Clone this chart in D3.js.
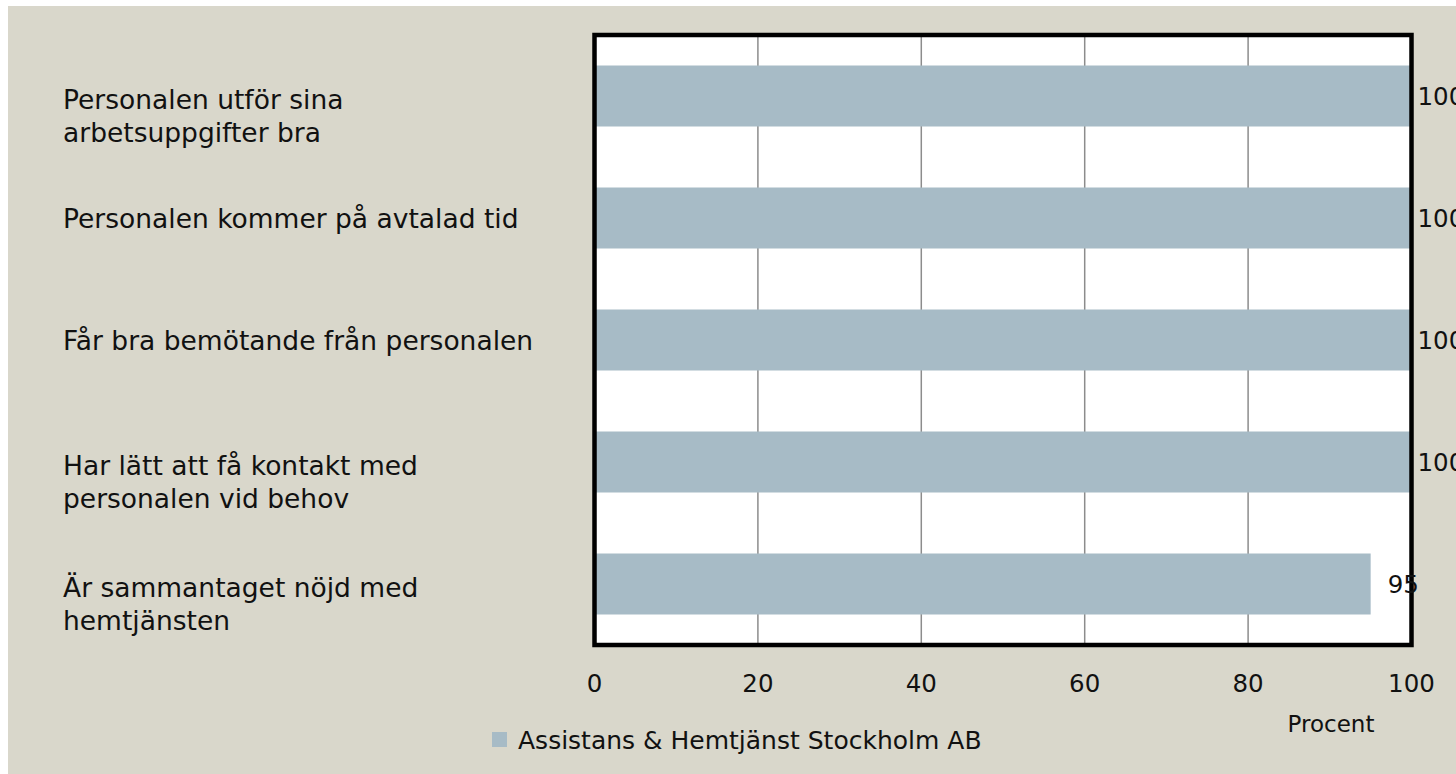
<!DOCTYPE html>
<html>
<head>
<meta charset="utf-8">
<script src="https://cdn.jsdelivr.net/npm/d3@7"></script>
<style>
  html, body { margin: 0; padding: 0; background: #ffffff; }
  svg { display: block; }
  text { font-family: "DejaVu Sans", sans-serif; fill: #111; }
</style>
</head>
<body>
<div id="chart"></div>
<script>
// data
const categories = [
  ["Personalen utför sina", "arbetsuppgifter bra"],
  ["Personalen kommer på avtalad tid"],
  ["Får bra bemötande från personalen"],
  ["Har lätt att få kontakt med", "personalen vid behov"],
  ["Är sammantaget nöjd med", "hemtjänsten"]
];
const values = [100, 100, 100, 100, 95];
const xTicks = [0, 20, 40, 60, 80, 100];
const seriesName = "Assistans & Hemtjänst Stockholm AB";
const axisTitle = "Procent";

const width = 1456, height = 774;
const plot = { left: 594.5, right: 1411.5, top: 35, bottom: 645 };

const svg = d3.select('#chart')
  .append('svg')
  .attr('width', width)
  .attr('height', height);

// background
svg.append('rect')
  .attr('x', 8).attr('y', 6)
  .attr('width', width - 8).attr('height', height - 6)
  .attr('fill', '#d9d7cb');

const x = d3.scaleLinear().domain([0, 100]).range([plot.left, plot.right]);
const y = d3.scaleBand()
  .domain(d3.range(categories.length))
  .range([plot.top, plot.bottom])
  .paddingInner(0.5)
  .paddingOuter(0.25);

// plot area
svg.append('rect')
  .attr('x', plot.left).attr('y', plot.top)
  .attr('width', plot.right - plot.left).attr('height', plot.bottom - plot.top)
  .attr('fill', '#ffffff');

// gridlines
svg.selectAll('.grid')
  .data(xTicks.slice(1, -1))
  .enter()
  .append('line')
    .attr('class', 'grid')
    .attr('x1', d => x(d)).attr('x2', d => x(d))
    .attr('y1', plot.top).attr('y2', plot.bottom)
    .attr('stroke', '#8c8c8c')
    .attr('stroke-width', 1.5);

// bars
svg.selectAll('.bar')
  .data(values)
  .enter()
  .append('rect')
    .attr('class', 'bar')
    .attr('x', x(0))
    .attr('y', (d, i) => y(i))
    .attr('width', d => x(d) - x(0))
    .attr('height', y.bandwidth())
    .attr('fill', '#a7bbc6');

// frame
svg.append('rect')
  .attr('x', plot.left).attr('y', plot.top)
  .attr('width', plot.right - plot.left).attr('height', plot.bottom - plot.top)
  .attr('fill', 'none')
  .attr('stroke', '#000')
  .attr('stroke-width', 4.5);

// value labels
svg.selectAll('.val')
  .data(values)
  .enter()
  .append('text')
    .attr('class', 'val')
    .attr('x', d => Math.min(x(d) + 17, x(100) + 6))
    .attr('y', (d, i) => y(i) + y.bandwidth() / 2)
    .attr('dy', '0.35em')
    .style('font-size', '24.5px')
    .text(d => d);

// category labels
const cat = svg.selectAll('.cat')
  .data(categories)
  .enter()
  .append('text')
    .attr('class', 'cat')
    .attr('x', 63)
    .attr('y', (d, i) => y(i) + y.bandwidth() / 2 + (d.length > 1 ? 4 : 1))
    .style('font-size', '26.5px');
cat.selectAll('tspan')
  .data(d => d)
  .enter()
  .append('tspan')
    .attr('x', 63)
    .attr('dy', (d, i) => i === 0 ? '0.35em' : '33px')
    .text(d => d);

// x tick labels
svg.selectAll('.tick')
  .data(xTicks)
  .enter()
  .append('text')
    .attr('class', 'tick')
    .attr('x', d => x(d))
    .attr('y', 683)
    .attr('dy', '0.35em')
    .attr('text-anchor', 'middle')
    .style('font-size', '24.5px')
    .text(d => d);

svg.append('text')
  .attr('x', 1331).attr('y', 724)
  .attr('dy', '0.35em')
  .attr('text-anchor', 'middle')
  .style('font-size', '23px')
  .text(axisTitle);

// legend
svg.append('rect')
  .attr('x', 492).attr('y', 732)
  .attr('width', 15).attr('height', 15)
  .attr('fill', '#a7bbc6');
svg.append('text')
  .attr('x', 518).attr('y', 740)
  .attr('dy', '0.35em')
  .style('font-size', '25px')
  .text(seriesName);
</script>
</body>
</html>
